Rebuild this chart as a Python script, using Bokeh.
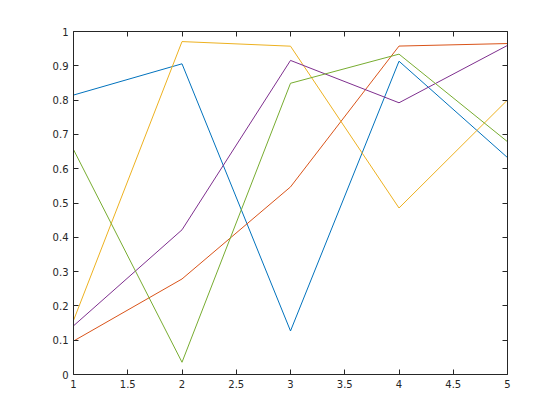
from bokeh.plotting import figure
from bokeh.models import LinearAxis, FixedTicker, Range1d
from bokeh.embed import file_html
from bokeh.resources import INLINE

x = [1, 2, 3, 4, 5]
s1 = [0.8147, 0.9058, 0.1270, 0.9134, 0.6324]
s2 = [0.0975, 0.2785, 0.5469, 0.9575, 0.9649]
s3 = [0.1576, 0.9706, 0.9572, 0.4854, 0.8003]
s4 = [0.1419, 0.4218, 0.9157, 0.7922, 0.9595]
s5 = [0.6557, 0.0357, 0.8491, 0.9340, 0.6787]
series = [s1, s2, s3, s4, s5]
colors = ["#0072BD", "#D95319", "#EDB120", "#7E2F8E", "#77AC30"]

xticks = [1, 1.5, 2, 2.5, 3, 3.5, 4, 4.5, 5]
xlabels = ["1", "1.5", "2", "2.5", "3", "3.5", "4", "4.5", "5"]
yticks = [0, 0.1, 0.2, 0.3, 0.4, 0.5, 0.6, 0.7, 0.8, 0.9, 1]
ylabels = ["0", "0.1", "0.2", "0.3", "0.4", "0.5", "0.6", "0.7", "0.8", "0.9", "1"]

p = figure(frame_width=434, frame_height=343, output_backend="svg",
           toolbar_location=None, x_range=Range1d(1, 5), y_range=Range1d(0, 1),
           min_border_left=73, min_border_right=37, min_border_top=31, min_border_bottom=30,
           x_axis_location=None, y_axis_location=None)
p.xgrid.visible = False
p.ygrid.visible = False
p.outline_line_color = None
p.background_fill_color = "white"
p.border_fill_color = "white"

for ys, c in zip(series, colors):
    p.line(x, ys, line_color=c, line_width=1)

axcol = "#262626"

def style(ax, ticks, labels, show):
    ax.ticker = FixedTicker(ticks=ticks)
    ax.major_label_overrides = {t: l for t, l in zip(ticks, labels)}
    ax.major_tick_in = 5
    ax.major_tick_out = 0
    ax.minor_tick_line_color = None
    ax.axis_line_color = axcol
    ax.major_tick_line_color = axcol
    ax.major_label_text_font = "DejaVu Sans"
    ax.major_label_text_font_size = "10px"
    ax.major_label_text_color = axcol if show else None
    ax.major_label_standoff = 5
    ax.axis_line_width = 1

bx = LinearAxis(); style(bx, xticks, xlabels, True); p.add_layout(bx, "below")
lx = LinearAxis(); style(lx, yticks, ylabels, True); p.add_layout(lx, "left")
tx = LinearAxis(); style(tx, xticks, xlabels, False); p.add_layout(tx, "above")
rx = LinearAxis(); style(rx, yticks, ylabels, False); p.add_layout(rx, "right")

open("out.html", "w").write(file_html(p, INLINE))
